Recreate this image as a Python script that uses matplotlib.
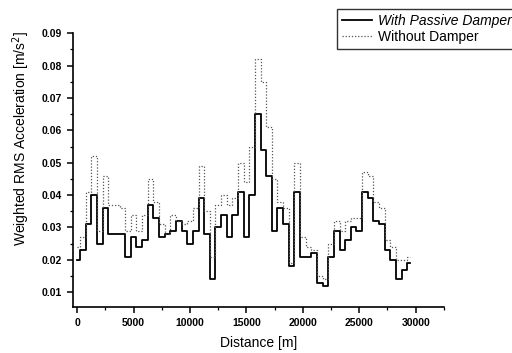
"""
Weighted RMS acceleration along the route, with and without damper
"""
import numpy as np
from matplotlib import pyplot as plt
from matplotlib.ticker import MultipleLocator

plt.rcParams['font.family'] = ['Liberation Sans', 'DejaVu Sans']

distance = np.arange(0, 30000, 500)

with_damper = [
    0.020, 0.023, 0.031, 0.040, 0.025, 0.036, 0.028, 0.028, 0.028, 0.021,
    0.027, 0.024, 0.026, 0.037, 0.033, 0.027, 0.028, 0.029, 0.032, 0.029,
    0.025, 0.029, 0.039, 0.028, 0.014, 0.030, 0.034, 0.027, 0.034, 0.041,
    0.027, 0.040, 0.065, 0.054, 0.046, 0.029, 0.036, 0.031, 0.018, 0.041,
    0.021, 0.021, 0.022, 0.013, 0.012, 0.021, 0.029, 0.023, 0.026, 0.030,
    0.029, 0.041, 0.039, 0.032, 0.031, 0.023, 0.020, 0.014, 0.017, 0.019,
]

without_damper = [
    0.024, 0.027, 0.041, 0.052, 0.029, 0.046, 0.037, 0.037, 0.036, 0.029,
    0.034, 0.029, 0.034, 0.045, 0.038, 0.031, 0.028, 0.034, 0.032, 0.031,
    0.032, 0.036, 0.049, 0.035, 0.021, 0.037, 0.040, 0.037, 0.039, 0.050,
    0.044, 0.055, 0.082, 0.075, 0.061, 0.045, 0.038, 0.036, 0.019, 0.050,
    0.027, 0.024, 0.023, 0.015, 0.014, 0.025, 0.032, 0.029, 0.032, 0.033,
    0.033, 0.047, 0.046, 0.038, 0.036, 0.026, 0.024, 0.020, 0.020, 0.021,
]

series_labels = ['With Passive Damper', 'Without Damper']


fig = plt.figure(figsize=(5.12, 3.53), dpi=100)
ax = fig.add_axes([0.142, 0.130, 0.725, 0.776])

ax.step(distance, with_damper, where='mid', color='black', lw=1.3,
        label=series_labels[0])
ax.step(distance, without_damper, where='mid', color='#555555', lw=0.9,
        linestyle=(0, (1, 1.5)), label=series_labels[1])

ax.set_xlim(-400, 32500)
ax.set_ylim(0.0054, 0.09)
ax.xaxis.set_major_locator(MultipleLocator(5000))
ax.xaxis.set_minor_locator(MultipleLocator(2500))
ax.yaxis.set_major_locator(MultipleLocator(0.01))
ax.yaxis.set_minor_locator(MultipleLocator(0.005))
ax.yaxis.set_major_formatter(lambda v, p: '%.2f' % v)

ax.spines['top'].set_visible(False)
ax.spines['right'].set_visible(False)
ax.spines['left'].set_linewidth(1.2)
ax.spines['bottom'].set_linewidth(1.2)
ax.tick_params(which='major', direction='out', length=4, width=1.1,
               labelsize=7.5)
ax.tick_params(which='minor', direction='out', length=2, width=0.9)
for t in ax.get_xticklabels() + ax.get_yticklabels():
    t.set_fontweight('bold')

ax.set_xlabel('Distance [m]', fontsize=10, labelpad=6)
ax.set_ylabel('Weighted RMS Acceleration [m/s$^2$]', fontsize=10)
# origin put the y title a bit above the axis middle
ax.yaxis.set_label_coords(-0.110, 0.617)

leg = fig.legend(loc='upper left', bbox_to_anchor=(330 / 512, 1 - 2 / 353),
                 fontsize=10, frameon=True, fancybox=False, handlelength=2.2,
                 borderpad=0.35, labelspacing=0.15, handletextpad=0.4)
leg.get_frame().set_edgecolor('black')
leg.get_frame().set_linewidth(1.0)
leg.get_texts()[0].set_style('italic')

fig.savefig('out.png', dpi=100)
